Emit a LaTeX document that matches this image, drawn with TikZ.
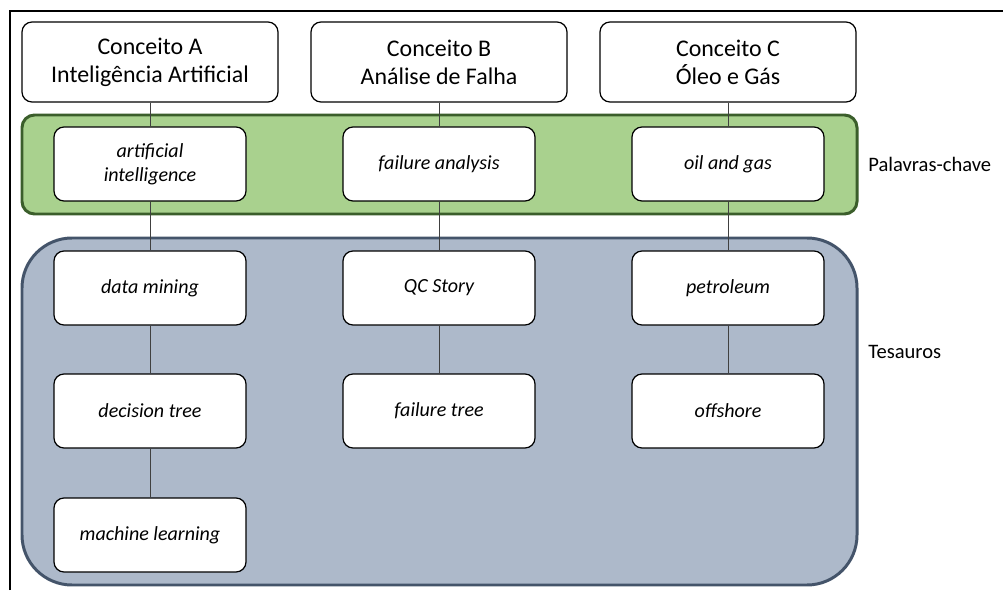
\documentclass[tikz,border=0pt]{standalone}
\usepackage{fontspec}
\setmainfont{Carlito}
\definecolor{verde}{HTML}{A9D18E}
\definecolor{verdeesc}{HTML}{3B5E2B}
\definecolor{azul}{HTML}{ADB9CA}
\definecolor{azulesc}{HTML}{44546A}
\begin{document}
\begin{tikzpicture}[every node/.style={inner sep=0pt},
  conceito/.style={draw,fill=white,rounded corners=0.2cm,line width=0.7pt,minimum width=5.12cm,minimum height=1.6cm,align=center,font=\fontsize{13.6}{16}\selectfont},
  termo/.style={draw,fill=white,rounded corners=0.2cm,line width=0.7pt,minimum width=3.84cm,minimum height=1.48cm,align=center,font=\fontsize{11.4}{13.7}\selectfont\itshape},
  liga/.style={line width=0.5pt,black!75}]
\useasboundingbox (0,0) rectangle (20.06,11.8);
% moldura
\draw[line width=0.9pt] (0.2,0) -- (0.2,11.58) -- (20.06,11.58);
% faixas
\draw[fill=verde,draw=verdeesc,line width=1.7pt,rounded corners=0.25cm] (0.44,7.52) rectangle (17.14,9.5);
\draw[fill=azul,draw=azulesc,line width=1.7pt,rounded corners=1cm] (0.44,0.1) rectangle (17.14,7.04);
\node[anchor=west,font=\fontsize{11.7}{13}\selectfont] (pc) at (17.36,8.52) {Palavras-chave};
\node[anchor=west,font=\fontsize{11.7}{13}\selectfont] (ts) at (17.36,4.76) {Tesauros};
% conceitos e palavras-chave
\foreach \i/\x/\c/\k in {1/3.0/{Conceito A\\Inteligência Artificial}/{artificial\\intelligence},
                         2/8.78/{Conceito B\\Análise de Falha}/{failure analysis},
                         3/14.56/{Conceito C\\Óleo e Gás}/{oil and gas}}
{
  \node[conceito] (c\i) at (\x,10.56) {\c};
  \node[termo] (k\i) at (\x,8.52) {\k};
}
% tesauros
\node[termo] (a1) at (3.0,6.04) {data mining};
\node[termo] (a2) at (3.0,3.58) {decision tree};
\node[termo] (a3) at (3.0,1.1) {machine learning};
\node[termo] (b1) at (8.78,6.04) {QC Story};
\node[termo] (b2) at (8.78,3.58) {failure tree};
\node[termo] (e1) at (14.56,6.04) {petroleum};
\node[termo] (e2) at (14.56,3.58) {offshore};
% ligacoes
\foreach \i in {1,2,3}
  \draw[liga] (c\i) -- (k\i);
\draw[liga] (k1) -- (a1) (a1) -- (a2) (a2) -- (a3);
\draw[liga] (k2) -- (b1) (b1) -- (b2);
\draw[liga] (k3) -- (e1) (e1) -- (e2);
\end{tikzpicture}
\end{document}
